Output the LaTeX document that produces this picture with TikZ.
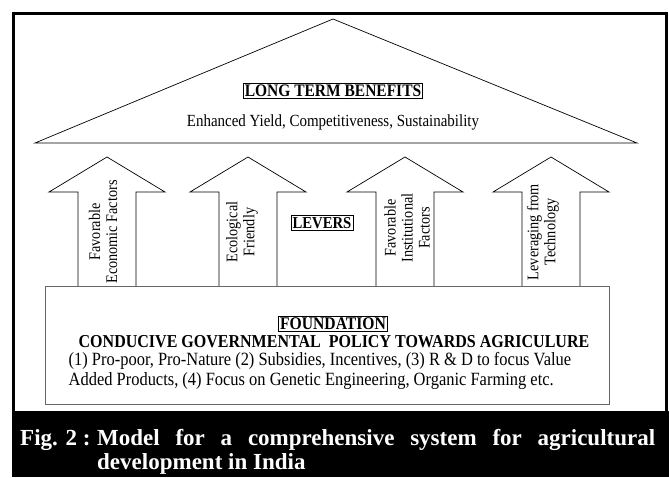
\documentclass[tikz,border=0pt]{standalone}
\usepackage{fontspec}
\setmainfont[FakeStretch=0.88]{Liberation Serif}
\newfontfamily\capfont{Liberation Serif}

\begin{document}
\begin{tikzpicture}[x=1pt,y=-1pt,
    lever/.style={draw, line width=0.7pt, fill=white},
    levertext/.style={rotate=90, align=center, font=\fontsize{16.2}{17}\selectfont},
    titlebox/.style={draw, line width=0.8pt, inner sep=1.5pt, font=\bfseries\fontsize{17.6}{18}\selectfont}]
  \useasboundingbox (0,0) rectangle (669,477);
  % frame and caption band
  \fill[black] (12,411) rectangle (669,477);
  \draw[line width=3pt] (13.5,411) -- (13.5,13.5) -- (666.5,13.5) -- (666.5,411);
  % roof
  \draw[line width=0.7pt] (35,143) -- (333,19) -- (637,143) -- cycle;
  \node[titlebox] (benefits) at (333,91) {LONG TERM BENEFITS};
  \node[font=\fontsize{17}{18}\selectfont] (gains) at (333,122) {Enhanced Yield, Competitiveness, Sustainability};
  % levers
  \foreach \cx in {107,248,405,551}
    \draw[lever] (\cx-29,286) -- (\cx-29,192) -- (\cx-58,192) -- (\cx,157) -- (\cx+58,192) -- (\cx+29,192) -- (\cx+29,286);
  \node[levertext] (econ) at (103,232) {Favorable\\Economic Factors};
  \node[levertext] (eco) at (242,232) {Ecological\\Friendly};
  \node[levertext] (inst) at (407,228) {Favorable\\Institutional\\Factors};
  \node[levertext] (tech) at (543,232) {Leveraging from\\Technology};
  \node[titlebox, font=\bfseries\fontsize{16.7}{17}\selectfont] (levers) at (322,223) {LEVERS};
  % foundation
  \draw[black!60, line width=0.7pt] (45,286) rectangle (609,404);
  \node[titlebox, font=\bfseries\fontsize{17.8}{18}\selectfont] (found) at (333,324) {FOUNDATION};
  \node[inner sep=0.5pt, font=\bfseries\fontsize{18.2}{19}\selectfont] (policy) at (334,342) {CONDUCIVE GOVERNMENTAL\ \ POLICY TOWARDS AGRICULURE};
  \node[anchor=west, inner sep=0.5pt, align=left, font=\fontsize{18.7}{20}\selectfont] (measures) at (68,371)
    {(1) Pro-poor, Pro-Nature (2) Subsidies, Incentives, (3) R \& D to focus Value\\
     Added Products, (4) Focus on Genetic Engineering, Organic Farming etc.};
  % caption
  \node[anchor=base west, inner sep=0, text=white, font=\capfont\bfseries\fontsize{23}{24}\selectfont] (fig) at (20,445) {Fig. 2 :};
  \node[anchor=north west, inner sep=0, align=left, text=white, font=\capfont\bfseries\fontsize{23}{24}\selectfont] (caption) at (97,429.5)
    {\makebox[558pt][s]{Model for a comprehensive system for agricultural}\\development in India};
\end{tikzpicture}
\end{document}
